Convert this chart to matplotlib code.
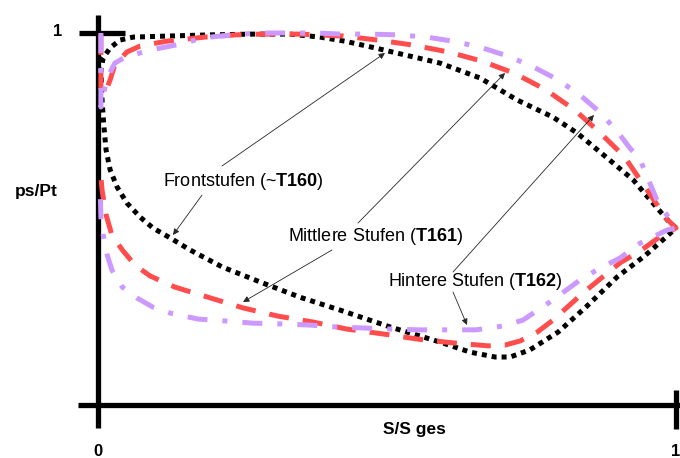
import matplotlib.pyplot as plt

plt.rcParams['font.family'] = ['Liberation Sans', 'DejaVu Sans']
plt.rcParams['mathtext.fontset'] = 'custom'
plt.rcParams['mathtext.rm'] = 'Liberation Sans'
plt.rcParams['mathtext.bf'] = 'Liberation Sans:bold'

# Frontstufen (~T160), black dotted: upper branch from trailing edge to leading edge, then lower branch
front_upper_x = [1.000, 0.990, 0.960, 0.926, 0.881, 0.829, 0.787, 0.725, 0.661, 0.592, 0.531, 0.479,
                 0.427, 0.384, 0.332, 0.268, 0.194, 0.125, 0.061, 0.038, 0.021, 0.009]
front_upper_y = [0.476, 0.489, 0.543, 0.605, 0.664, 0.731, 0.774, 0.820, 0.879, 0.919, 0.941, 0.960,
                 0.978, 0.989, 0.997, 0.997, 0.995, 0.992, 0.989, 0.981, 0.960, 0.933]
front_lower_x = [0.005, 0.007, 0.010, 0.014, 0.021, 0.033, 0.050, 0.073, 0.095, 0.125, 0.159, 0.215,
                 0.280, 0.349, 0.419, 0.505, 0.592, 0.644, 0.687, 0.713, 0.747, 0.796, 0.844, 0.898,
                 0.946, 0.981, 1.000]
front_lower_y = [0.901, 0.820, 0.753, 0.685, 0.632, 0.586, 0.543, 0.505, 0.476, 0.449, 0.417, 0.371,
                 0.331, 0.290, 0.255, 0.210, 0.169, 0.142, 0.129, 0.129, 0.148, 0.196, 0.263, 0.344,
                 0.401, 0.449, 0.476]

# Mittlere Stufen (T161), red dashed
mid_upper_x = [0.005, 0.005, 0.014, 0.021, 0.029, 0.050, 0.073, 0.119, 0.185, 0.239, 0.284, 0.349,
               0.424, 0.484, 0.543, 0.606, 0.663, 0.720, 0.773, 0.825, 0.869, 0.910, 0.950, 0.984, 1.000]
mid_upper_y = [0.995, 0.841, 0.846, 0.874, 0.914, 0.949, 0.965, 0.978, 0.989, 0.995, 0.997, 0.997,
               0.992, 0.981, 0.968, 0.949, 0.925, 0.892, 0.849, 0.793, 0.731, 0.669, 0.578, 0.500, 0.476]
mid_lower_x = [1.000, 0.972, 0.938, 0.903, 0.839, 0.787, 0.760, 0.730, 0.704, 0.675, 0.614, 0.554,
               0.493, 0.431, 0.372, 0.311, 0.251, 0.194, 0.133, 0.090, 0.064, 0.042, 0.024, 0.014,
               0.007, 0.004]
mid_lower_y = [0.476, 0.452, 0.414, 0.382, 0.301, 0.228, 0.196, 0.172, 0.161, 0.159, 0.167, 0.177,
               0.191, 0.204, 0.223, 0.239, 0.261, 0.288, 0.317, 0.347, 0.376, 0.417, 0.457, 0.511,
               0.578, 0.632]

# Hintere Stufen (T162), purple dash-dot
rear_upper_x = [0.005, 0.005, 0.009, 0.016, 0.029, 0.047, 0.090, 0.142, 0.182, 0.232, 0.277, 0.329,
                0.375, 0.422, 0.471, 0.519, 0.569, 0.614, 0.661, 0.709, 0.753, 0.796, 0.834, 0.870,
                0.903, 0.920, 0.938, 0.967, 0.984, 1.000]
rear_upper_y = [1.000, 0.801, 0.833, 0.879, 0.919, 0.935, 0.954, 0.970, 0.987, 0.995, 1.000, 1.000,
                1.000, 0.997, 0.997, 0.995, 0.989, 0.978, 0.962, 0.938, 0.909, 0.874, 0.833, 0.785,
                0.726, 0.691, 0.659, 0.551, 0.511, 0.476]
rear_lower_x = [1.000, 0.984, 0.938, 0.903, 0.863, 0.834, 0.782, 0.735, 0.699, 0.654, 0.604, 0.557,
                0.509, 0.460, 0.410, 0.365, 0.318, 0.268, 0.220, 0.173, 0.125, 0.095, 0.067, 0.042,
                0.024, 0.016, 0.009, 0.005, 0.004]
rear_lower_y = [0.476, 0.470, 0.435, 0.395, 0.363, 0.336, 0.277, 0.228, 0.212, 0.202, 0.202, 0.202,
                0.204, 0.207, 0.210, 0.215, 0.218, 0.220, 0.226, 0.231, 0.247, 0.263, 0.288, 0.317,
                0.363, 0.403, 0.457, 0.505, 0.575]

labels = ['Frontstufen (~$\\mathbf{T160}$)',
          'Mittlere Stufen ($\\mathbf{T161}$)',
          'Hintere Stufen ($\\mathbf{T162}$)']
label_pos = [(0.1125, 0.602), (0.3287, 0.452), (0.5017, 0.331)]
# (start, tip) of the two pointer lines per label
pointers = [[((0.2145, 0.6425), (0.4965, 0.9462)), ((0.180, 0.5645), (0.1298, 0.457))],
            [((0.4498, 0.4892), (0.7042, 0.8925)), ((0.4048, 0.4167), (0.2509, 0.2769))],
            [((0.6142, 0.3575), (0.8581, 0.7796)), ((0.6142, 0.3038), (0.6384, 0.2151))]]

fig = plt.figure(figsize=(6.8, 4.58), dpi=100)
ax = fig.add_axes([0, 0, 1, 1])
ax.set_xlim(-98 / 578, 582 / 578)
ax.set_ylim(-53 / 372, 405 / 372)
ax.axis('off')

# hand drawn axes
axis_kw = dict(color='black', lw=3.8, solid_capstyle='butt', zorder=1)
ax.plot([0, 0], [-0.062, 1.048], **axis_kw)
ax.plot([-0.035, 1.01], [0, 0], **axis_kw)
ax.plot([-0.033, 0.047], [1, 1], **axis_kw)
ax.plot([1, 1], [-0.065, 0.04], **axis_kw)

ax.plot(front_upper_x + front_lower_x, front_upper_y + front_lower_y,
        color='black', lw=3.6, linestyle=(0, (1, 1)), zorder=2)
ax.plot(mid_upper_x + mid_lower_x, mid_upper_y + mid_lower_y,
        color='#FF4D4D', lw=3.6, linestyle=(0, (4, 2.8)), zorder=3)
ax.plot(rear_upper_x + rear_lower_x, rear_upper_y + rear_lower_y,
        color='#CC99FF', lw=3.6, linestyle=(0, (4, 3, 1, 3)), zorder=4)

for lab, (lx, ly), ptrs in zip(labels, label_pos, pointers):
    ax.text(lx, ly, lab, fontsize=13, ha='left', va='center', zorder=6)
    for start, tip in ptrs:
        ax.annotate('', xy=tip, xytext=start,
                    arrowprops=dict(arrowstyle='-|>', color='0.15', lw=0.6,
                                    mutation_scale=9, shrinkA=0, shrinkB=0),
                    zorder=5)

ax.text(-0.0692, 1.003, '1', fontsize=12, fontweight='bold', ha='center', va='center')
ax.text(0, -0.126, '0', fontsize=12, fontweight='bold', ha='center', va='center')
ax.text(1, -0.124, '1', fontsize=12, fontweight='bold', ha='center', va='center')
ax.text(-0.1073, 0.573, 'ps/Pt', fontsize=12.5, fontweight='bold', ha='center', va='center')
ax.text(0.5467, -0.067, 'S/S ges', fontsize=12.5, fontweight='bold', ha='center', va='center')

plt.savefig('out.png', dpi=100)
